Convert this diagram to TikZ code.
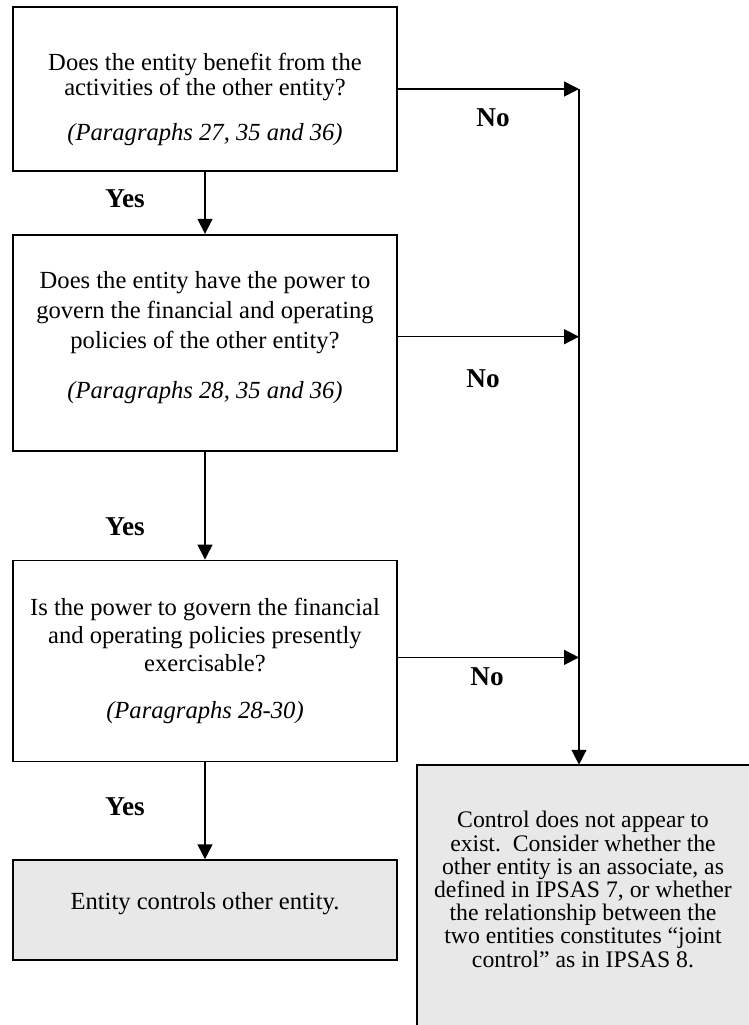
\documentclass[tikz,border=0pt]{standalone}
\usepackage{fontspec}
\setmainfont{Liberation Serif}
\usetikzlibrary{arrows.meta,positioning}
\definecolor{boxgray}{HTML}{E8E8E8}
\tikzstyle{arrow} = [-{Triangle[length=8.5pt,width=8.5pt]}, line width=0.8pt]
\tikzstyle{question} = [draw, line width=1pt, minimum width=7.68cm, align=center]
\tikzstyle{answer} = [font=\fontsize{15.5}{17}\selectfont\bfseries]

\begin{document}
\begin{tikzpicture}[x=0.02cm, y=-0.02cm]
\useasboundingbox (0,0) rectangle (749,1025);
\clip (0,0) rectangle (749,1025);

% Nodes
\node (q1) [question, minimum height=3.28cm, font=\fontsize{14}{14.2}\selectfont] at (205,89)
  {\rule{0pt}{21.4pt}Does the entity benefit from the\\ activities of the other entity?\\[11.4pt] \textit{(Paragraphs 27, 35 and 36)}};
\node (q2) [question, below=1.24cm of q1, minimum height=4.32cm, font=\fontsize{14}{17.1}\selectfont]
  {Does the entity have the power to\\ govern the financial and operating\\ policies of the other entity?\\[11.4pt] \textit{(Paragraphs 28, 35 and 36)}\rule[-9.2pt]{0pt}{1pt}};
\node (q3) [question, below=2.16cm of q2, minimum height=4.02cm, font=\fontsize{14}{16.2}\selectfont]
  {Is the power to govern the financial\\ and operating policies presently\\ exercisable?\\[10.5pt] \textit{(Paragraphs 28-30)}};
\node (ctrl) [question, fill=boxgray, below=1.94cm of q3, minimum height=2cm, font=\fontsize{14}{16}\selectfont]
  {Entity controls other entity.\rule[-10pt]{0pt}{1pt}};
\node (noctrl) [fill=boxgray, minimum width=6.64cm, minimum height=5.2cm, align=center, inner sep=0pt,
  font=\fontsize{13.5}{13.2}\selectfont] at (583,895)
  {Control does not appear to\\ exist.\ \ Consider whether the\\ other entity is an associate, as\\ defined in IPSAS 7, or whether\\ the relationship between the\\ two entities constitutes ``joint\\ control'' as in IPSAS 8.\rule[-6.6pt]{0pt}{1pt}};
\draw [line width=1pt] (noctrl.south west) -- (noctrl.north west) -- (noctrl.north east);
\coordinate (rail) at (579,90);

% Labels
\node (yes1) [answer] at (125,199) {Yes};
\node (yes2) [answer] at (125,527) {Yes};
\node (yes3) [answer] at (125,807) {Yes};
\node (no1) [answer] at (493,118) {No};
\node (no2) [answer] at (483,379) {No};
\node (no3) [answer] at (487,677) {No};

% Arrows
\draw [arrow] (q1) -- (q2);
\draw [arrow] (q2) -- (q3);
\draw [arrow] (q3) -- (ctrl);
\draw [arrow] (q1.east) -- (q1.east -| rail);
\draw [arrow] ([yshift=0.12cm]q2.east) -- ([yshift=0.12cm]q2.east -| rail);
\draw [arrow] ([yshift=0.07cm]q3.east) -- ([yshift=0.07cm]q3.east -| rail);
\draw [arrow] (q1.east -| rail) -- (rail |- noctrl.north);

\end{tikzpicture}
\end{document}
